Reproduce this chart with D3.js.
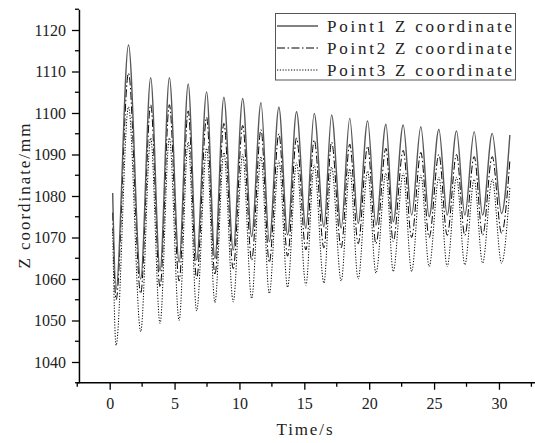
<!DOCTYPE html>
<html>
<head>
<meta charset="utf-8">
<script src="https://cdn.jsdelivr.net/npm/d3@7"></script>
<style>
  html, body { margin: 0; padding: 0; background: #fff; }
  svg { display: block; }
  text { font-family: "Liberation Serif", "Times New Roman", serif; fill: #222; }
</style>
</head>
<body>
<svg id="chart" width="535" height="443"></svg>
<script>
// Sample times (s): start, then alternating troughs and peaks of the motion
const timeS = [0.23, 0.49, 1.45, 2.39, 3.16, 3.88, 4.60, 5.35, 6.05, 6.70, 7.47, 8.11, 8.80, 9.52,
  10.25, 10.94, 11.66, 12.30, 13.04, 13.71, 14.40, 15.12, 15.76, 16.51, 17.10, 17.84, 18.50, 19.15,
  19.88, 20.52, 21.29, 21.85, 22.62, 23.27, 23.98, 24.62, 25.37, 26.01, 26.73, 27.37, 28.09, 28.74,
  29.48, 30.20, 30.84];

// Z coordinate (mm) of each marker at those times
const point1Z = [1080.7, 1057.5, 1116.4, 1060.0, 1108.5, 1062.0, 1108.5, 1064.0, 1107.0, 1064.6,
  1105.1, 1065.0, 1103.8, 1067.0, 1103.5, 1070.2, 1102.5, 1069.0, 1101.4, 1070.6, 1100.3, 1072.2,
  1099.9, 1072.6, 1099.5, 1072.3, 1098.7, 1073.4, 1098.1, 1073.0, 1097.3, 1073.8, 1097.1, 1075.4,
  1096.7, 1075.0, 1096.1, 1075.4, 1095.7, 1075.4, 1095.5, 1075.4, 1095.1, 1075.8, 1094.7];

const point2Z = [1076.0, 1055.0, 1109.6, 1056.5, 1102.0, 1058.0, 1102.0, 1059.5, 1100.5, 1060.0,
  1099.0, 1061.0, 1097.5, 1062.5, 1097.0, 1064.5, 1096.0, 1064.0, 1095.0, 1065.5, 1094.0, 1067.0,
  1093.5, 1067.5, 1093.0, 1067.5, 1092.5, 1068.5, 1092.0, 1068.5, 1091.5, 1069.0, 1091.0, 1070.0,
  1090.5, 1070.0, 1090.0, 1070.5, 1090.0, 1070.5, 1089.5, 1070.5, 1089.5, 1071.0, 1088.5];

const point3Z = [1072.0, 1044.0, 1101.5, 1047.3, 1094.0, 1049.3, 1094.0, 1050.0, 1093.0, 1052.3,
  1091.5, 1054.3, 1090.5, 1054.5, 1090.0, 1055.3, 1089.5, 1056.5, 1088.5, 1058.0, 1088.0, 1058.5,
  1087.5, 1059.0, 1087.0, 1059.5, 1086.5, 1060.0, 1086.0, 1061.4, 1085.5, 1061.8, 1085.5, 1061.8,
  1085.0, 1063.0, 1084.5, 1063.0, 1084.5, 1063.4, 1084.0, 1063.8, 1084.0, 1063.8, 1082.0];

const seriesNames = ["Point1 Z coordinate", "Point2 Z coordinate", "Point3 Z coordinate"];
const xTicks = [0, 5, 10, 15, 20, 25, 30];
const yTicks = [1040, 1050, 1060, 1070, 1080, 1090, 1100, 1110, 1120];

const svg = d3.select("#chart");
const x = d3.scaleLinear().domain([-2.5, 32.5]).range([77.25, 531.4]);
const y = d3.scaleLinear().domain([1035, 1125]).range([382.75, 9.25]);

const fontStack = '"Liberation Serif", "Times New Roman", serif';

// Series lines
const styles = [
  { z: point1Z, stroke: "#585858", width: 1.4, dash: null },
  { z: point2Z, stroke: "#000", width: 1.0, dash: "8,2.5,1.5,2.5" },
  { z: point3Z, stroke: "#000", width: 1.0, dash: "1.2,1.6" }
];
const line = d3.line()
  .x(d => x(d[0]))
  .y(d => y(d[1]))
  .curve(d3.curveMonotoneX);

const plot = svg.append("g");
styles.slice().reverse().forEach(s => {
  plot.append("path")
    .datum(timeS.map((t, i) => [t, s.z[i]]))
    .attr("d", line)
    .attr("fill", "none")
    .attr("stroke", s.stroke)
    .attr("stroke-width", s.width)
    .attr("stroke-dasharray", s.dash)
    .attr("stroke-linejoin", "round");
});

function styleText(sel, size) {
  sel.style("font-family", fontStack).style("font-size", size + "px").style("fill", "#222");
}

// Y axis with major and minor ticks
const yAxis = svg.append("g").attr("transform", `translate(${x.range()[0] + 1.7},0)`);
yAxis.call(d3.axisLeft(y).tickValues(yTicks).tickSize(7).tickSizeOuter(0).tickPadding(6)
    .tickFormat(d3.format("d")))
  .call(g => g.select(".domain").attr("stroke", "#000").attr("stroke-width", 1.5))
  .call(g => g.selectAll(".tick line").attr("stroke", "#000").attr("stroke-width", 1.3))
  .call(g => styleText(g.selectAll(".tick text"), 16));
yAxis.append("g").selectAll("line")
  .data(d3.range(1035, 1126, 10))
  .join("line")
  .attr("x1", -4).attr("x2", 0)
  .attr("y1", d => y(d)).attr("y2", d => y(d))
  .attr("stroke", "#000").attr("stroke-width", 1.3);

// X axis with major and minor ticks
const xAxis = svg.append("g").attr("transform", `translate(0,${y.range()[0]})`);
xAxis.call(d3.axisBottom(x).tickValues(xTicks).tickSize(7).tickSizeOuter(0).tickPadding(8))
  .call(g => g.select(".domain").remove())
  .call(g => g.selectAll(".tick line").attr("stroke", "#000").attr("stroke-width", 1.3))
  .call(g => styleText(g.selectAll(".tick text"), 16));
xAxis.append("line")
  .attr("x1", x.range()[0]).attr("x2", 535)
  .attr("stroke", "#000").attr("stroke-width", 1.5);
xAxis.append("g").selectAll("line")
  .data(d3.range(-2.5, 33, 5))
  .join("line")
  .attr("x1", d => x(d)).attr("x2", d => x(d))
  .attr("y1", 0).attr("y2", 4)
  .attr("stroke", "#000").attr("stroke-width", 1.3);

// Axis titles
svg.append("text")
  .attr("x", 304.5).attr("y", 435)
  .attr("text-anchor", "middle")
  .attr("textLength", 56).attr("lengthAdjust", "spacing")
  .call(styleText, 17)
  .text("Time/s");
svg.append("text")
  .attr("transform", "translate(30,196) rotate(-90)")
  .attr("text-anchor", "middle")
  .attr("textLength", 145).attr("lengthAdjust", "spacing")
  .call(styleText, 17)
  .text("Z coordinate/mm");

// Legend
const legend = svg.append("g");
legend.append("rect")
  .attr("x", 275.5).attr("y", 13.5).attr("width", 240).attr("height", 66.5)
  .attr("fill", "#fff").attr("stroke", "#555").attr("stroke-width", 1);
const rowY = [26, 48, 70];
styles.forEach((s, i) => {
  legend.append("line")
    .attr("x1", 277).attr("x2", 318)
    .attr("y1", rowY[i]).attr("y2", rowY[i])
    .attr("stroke", s.stroke).attr("stroke-width", s.width)
    .attr("stroke-dasharray", s.dash);
  legend.append("text")
    .attr("x", 327).attr("y", rowY[i] + 5.5)
    .attr("textLength", 185).attr("lengthAdjust", "spacing")
    .call(styleText, 17)
    .text(seriesNames[i]);
});
</script>
</body>
</html>
